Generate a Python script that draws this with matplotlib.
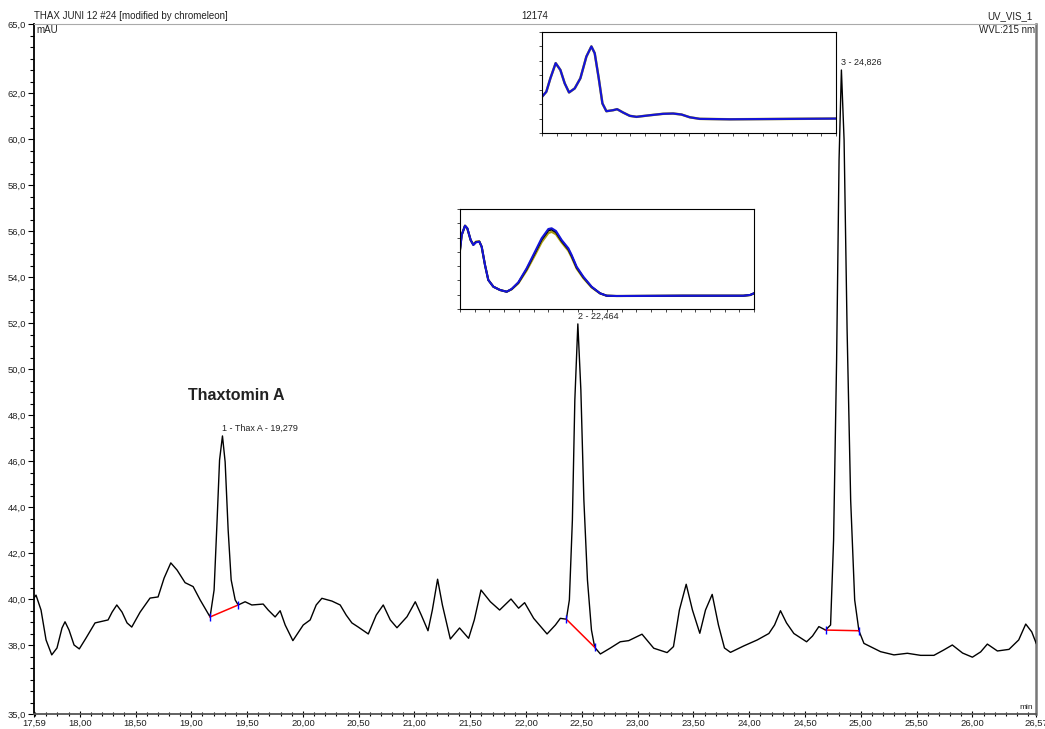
import matplotlib
matplotlib.use("Agg")
import matplotlib.pyplot as plt

plt.rcParams['font.family'] = ['Liberation Sans', 'DejaVu Sans']

# chromatogram trace (min, mAU)
time_min = [17.590, 17.608, 17.653, 17.698, 17.749, 17.796, 17.841, 17.868, 17.904, 17.949,
            17.996, 18.056, 18.137, 18.254, 18.290, 18.332, 18.379, 18.424, 18.466, 18.541,
            18.630, 18.702, 18.756, 18.816, 18.872, 18.944, 19.016, 19.079, 19.168, 19.204,
            19.231, 19.253, 19.279, 19.303, 19.330, 19.357, 19.393, 19.420, 19.482, 19.542,
            19.644, 19.689, 19.751, 19.796, 19.841, 19.910, 20.003, 20.065, 20.119, 20.170,
            20.260, 20.334, 20.388, 20.439, 20.496, 20.586, 20.657, 20.720, 20.783, 20.843,
            20.933, 21.007, 21.061, 21.121, 21.160, 21.207, 21.250, 21.321, 21.404, 21.485,
            21.536, 21.596, 21.680, 21.763, 21.865, 21.933, 21.987, 22.068, 22.188, 22.263,
            22.307, 22.361, 22.388, 22.415, 22.437, 22.464, 22.491, 22.518, 22.550, 22.586,
            22.615, 22.666, 22.756, 22.844, 22.920, 23.039, 23.144, 23.264, 23.321, 23.374,
            23.435, 23.491, 23.557, 23.608, 23.668, 23.724, 23.778, 23.832, 23.951, 24.072,
            24.176, 24.227, 24.280, 24.334, 24.400, 24.514, 24.567, 24.624, 24.684, 24.729,
            24.756, 24.783, 24.805, 24.826, 24.850, 24.877, 24.909, 24.945, 24.983, 25.028,
            25.177, 25.297, 25.417, 25.536, 25.655, 25.742, 25.820, 25.912, 26.000, 26.074,
            26.134, 26.224, 26.328, 26.415, 26.478, 26.532, 26.572]
signal_mau = [40.04, 40.17, 39.52, 38.22, 37.57, 37.87, 38.74, 39.01, 38.65, 38.00,
              37.83, 38.30, 38.96, 39.09, 39.43, 39.74, 39.43, 38.96, 38.78, 39.43,
              40.04, 40.09, 40.91, 41.57, 41.26, 40.71, 40.54, 39.96, 39.22, 40.39,
              43.43, 46.04, 47.09, 45.96, 43.00, 40.83, 39.96, 39.74, 39.88, 39.74,
              39.78, 39.52, 39.22, 39.49, 38.87, 38.19, 38.87, 39.09, 39.74, 40.03,
              39.91, 39.74, 39.30, 38.96, 38.78, 38.48, 39.30, 39.74, 39.09, 38.75,
              39.23, 39.88, 39.30, 38.62, 39.52, 40.86, 39.74, 38.26, 38.74, 38.29,
              39.09, 40.39, 39.88, 39.52, 40.00, 39.60, 39.84, 39.16, 38.48, 38.87,
              39.16, 39.12, 39.96, 43.43, 48.65, 51.96, 49.09, 44.30, 40.83, 38.65,
              37.90, 37.61, 37.87, 38.14, 38.19, 38.47, 37.86, 37.67, 37.93, 39.52,
              40.64, 39.52, 38.51, 39.52, 40.20, 38.87, 37.87, 37.68, 37.96, 38.22,
              38.50, 38.87, 39.49, 38.96, 38.50, 38.14, 38.39, 38.80, 38.65, 38.87,
              42.57, 50.39, 59.09, 63.00, 59.96, 51.70, 44.30, 39.96, 38.62, 38.07,
              37.71, 37.57, 37.64, 37.55, 37.55, 37.78, 38.00, 37.65, 37.47, 37.70,
              38.04, 37.74, 37.81, 38.22, 38.91, 38.57, 38.07]

# integrated peaks
peak_labels = ["1 - Thax A - 19,279", "2 - 22,464", "3 - 24,826"]
peak_rt = [19.279, 22.464, 24.826]
peak_height = [47.09, 51.96, 63.00]
base_start_t = [19.168, 22.361, 24.684]
base_start_y = [39.22, 39.12, 38.65]
base_end_t = [19.420, 22.615, 24.983]
base_end_y = [39.74, 37.90, 38.62]

x_ticks = [17.59, 18.00, 18.50, 19.00, 19.50, 20.00, 20.50, 21.00, 21.50, 22.00,
           22.50, 23.00, 23.50, 24.00, 24.50, 25.00, 25.50, 26.00, 26.57]
y_ticks = [35.0, 38.0, 40.0, 42.0, 44.0, 46.0, 48.0, 50.0, 52.0, 54.0,
           56.0, 58.0, 60.0, 62.0, 65.0]

# UV spectra in the two insets (nm, mAU)
spec1_nm = [200.0, 205.9, 211.4, 218.6, 225.0, 230.9, 236.8, 244.5, 252.2, 260.4,
            267.2, 271.7, 277.2, 282.2, 287.6, 296.7, 302.2, 310.3, 319.4, 328.5,
            346.7, 364.8, 378.4, 389.8, 401.1, 414.7, 455.6, 600.0]
spec1_mau = [15.1, 18.6, 27.9, 38.4, 33.7, 24.4, 18.1, 20.9, 27.9, 43.0,
             50.0, 45.3, 27.9, 10.5, 5.1, 5.8, 6.5, 4.2, 1.9, 1.2,
             2.3, 3.3, 3.5, 2.8, 0.9, -0.2, -0.5, 0.0]

spec2_nm = [200.0, 202.3, 206.8, 210.0, 214.5, 218.1, 221.8, 226.3, 229.5, 234.0,
            238.5, 245.4, 254.4, 263.5, 270.3, 279.4, 290.7, 302.0, 311.1, 320.2,
            324.7, 330.6, 338.3, 347.4, 351.9, 358.7, 367.8, 379.1, 390.5, 399.5,
            413.2, 503.9, 585.5, 594.6, 600.0]
spec2_blue = [31.3, 41.8, 48.3, 46.5, 38.3, 34.8, 36.7, 37.1, 33.6, 20.8,
              10.3, 5.6, 3.3, 2.1, 4.0, 8.7, 18.5, 30.1, 39.5, 46.0,
              46.5, 44.6, 38.3, 32.5, 27.8, 19.6, 12.6, 5.6, 1.0, -0.7,
              -0.9, -0.7, -0.7, -0.2, 1.0]
spec2_black = [31.3, 41.8, 48.3, 46.4, 38.3, 34.9, 36.9, 37.2, 33.6, 20.8,
               10.3, 5.6, 3.3, 2.1, 3.9, 8.4, 17.9, 29.3, 38.6, 45.0,
               45.6, 43.7, 37.6, 31.8, 27.1, 19.0, 12.2, 5.4, 1.0, -0.7,
               -0.9, -0.7, -0.7, -0.2, 1.0]
spec2_olive = [31.3, 41.8, 48.3, 46.2, 38.1, 35.2, 37.2, 37.3, 33.5, 20.8,
               10.3, 5.6, 3.3, 2.1, 3.8, 8.0, 17.0, 27.8, 36.8, 43.2,
               44.0, 42.3, 36.6, 30.8, 26.2, 18.3, 11.6, 5.1, 0.9, -0.7,
               -0.9, -0.7, -0.7, -0.3, 0.9]

fig = plt.figure(figsize=(10.45, 7.29), dpi=100)
ax = fig.add_axes([34 / 1045, 1 - 714 / 729, 1002 / 1045, 690 / 729])

ax.plot(time_min, signal_mau, color='black', lw=1.0, zorder=3)

for i in range(len(peak_rt)):
    ax.plot([base_start_t[i], base_end_t[i]], [base_start_y[i], base_end_y[i]],
            color='red', lw=1.1, zorder=4)
    ax.plot([base_start_t[i], base_end_t[i]], [base_start_y[i], base_end_y[i]],
            ls='none', marker='|', ms=6, mew=1.0, color='blue', zorder=5)
    ax.annotate(peak_labels[i], xy=(peak_rt[i], peak_height[i]), xytext=(0, 2),
                textcoords='offset points', ha='left', va='bottom',
                fontsize=6.5, color='#222222')

ax.text(19.40, 48.83, "Thaxtomin A", fontsize=11.5, fontweight='bold',
        color='#222222', ha='center', va='center')

ax.set_xlim(17.59, 26.57)
ax.set_ylim(35.0, 65.0)
ax.set_xticks(x_ticks)
ax.set_xticklabels([f"{v:.2f}".replace('.', ',') for v in x_ticks])
ax.set_yticks(y_ticks)
ax.set_yticklabels([f"{v:.1f}".replace('.', ',') for v in y_ticks])
ax.set_xticks([17.6 + 0.1 * k for k in range(90)], minor=True)
ax.set_yticks([35.0 + 0.5 * k for k in range(61)], minor=True)
ax.tick_params(axis='both', which='major', labelsize=6.8, labelcolor='#222222',
               length=4, width=0.8, pad=1.5)
ax.tick_params(axis='both', which='minor', length=3, width=0.8)
ax.tick_params(axis='x', which='both', direction='inout')

ax.spines['left'].set_color('black')
ax.spines['left'].set_linewidth(1.3)
ax.spines['bottom'].set_color('#555555')
ax.spines['bottom'].set_linewidth(1.3)
ax.spines['top'].set_color('#aaaaaa')
ax.spines['top'].set_linewidth(0.8)
ax.spines['right'].set_color('#777777')
ax.spines['right'].set_linewidth(1.8)

ax.text(0.0, 1.004, "THAX JUNI 12 #24 [modified by chromeleon]", transform=ax.transAxes,
        fontsize=7, ha='left', va='bottom', color='#222222')
ax.text(0.5, 1.004, "12174", transform=ax.transAxes, fontsize=7,
        ha='center', va='bottom', color='#222222')
ax.text(0.997, 1.004, "UV_VIS_1", transform=ax.transAxes, fontsize=7,
        ha='right', va='bottom', color='#222222')
ax.text(0.999, 0.998, "WVL:215 nm", transform=ax.transAxes, fontsize=7,
        ha='right', va='top', color='#222222')
ax.text(0.002, 0.998, "mAU", transform=ax.transAxes, fontsize=7,
        ha='left', va='top', color='#222222')
ax.text(0.997, 0.004, "min", transform=ax.transAxes, fontsize=6,
        ha='right', va='bottom', color='#222222')


def style_inset(iax):
    iax.set_xlim(200, 600)
    iax.set_ylim(-10, 60)
    iax.set_xticks(range(200, 601, 20))
    iax.set_yticks(range(-10, 61, 10))
    iax.tick_params(axis='both', length=2, width=0.5, labelsize=0,
                    labelbottom=False, labelleft=False)
    for s in iax.spines.values():
        s.set_linewidth(0.8)
        s.set_color('black')


ins1 = fig.add_axes([542 / 1045, 1 - 133 / 729, 294 / 1045, 101 / 729])
ins1.plot(spec1_nm, spec1_mau, color='#b5a600', lw=1.8)
ins1.plot(spec1_nm, spec1_mau, color='#1414d8', lw=1.6)
style_inset(ins1)

ins2 = fig.add_axes([460 / 1045, 1 - 309 / 729, 294 / 1045, 100 / 729])
ins2.plot(spec2_nm, spec2_olive, color='#a89a10', lw=1.6)
ins2.plot(spec2_nm, spec2_black, color='black', lw=1.4)
ins2.plot(spec2_nm, spec2_blue, color='#1414d8', lw=1.5)
style_inset(ins2)

fig.savefig("out.png", dpi=100)
